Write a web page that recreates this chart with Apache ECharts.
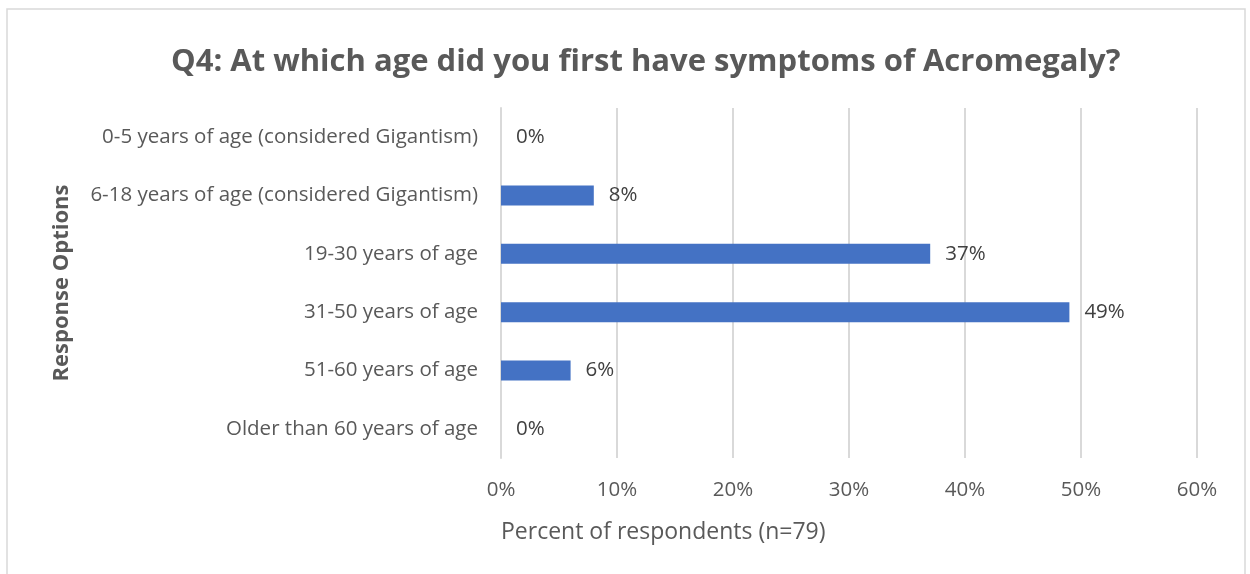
<!DOCTYPE html>
<html><head><meta charset="utf-8">
<script src="https://cdn.jsdelivr.net/npm/echarts@6/dist/echarts.min.js"></script>
<style>html,body{margin:0;padding:0;background:#fff}#c{width:1250px;height:574px}</style>
</head><body><div id="c"></div>
<script>
const categories = ["0-5 years of age (considered Gigantism)","6-18 years of age (considered Gigantism)","19-30 years of age","31-50 years of age","51-60 years of age","Older than 60 years of age"];
const values = [0, 8, 37, 49, 6, 0];
const xTicks = [0, 10, 20, 30, 40, 50, 60];
const titleText = "Q4: At which age did you first have symptoms of Acromegaly?";
const xName = "Percent of respondents (n=79)";
const yName = "Response Options";
const FONT = "Open Sans";
const chart = echarts.init(document.getElementById('c'), null, {renderer:'canvas'});
chart.setOption({
  animation:false,
  backgroundColor:'#fff',
  title:{text:titleText,left:166,top:42,textStyle:{fontFamily:FONT,fontSize:31,fontWeight:'bold',color:'#595959'}},
  grid:{left:501,right:53,top:108,bottom:116,containLabel:false},
  xAxis:{type:'value',min:xTicks[0],max:xTicks[xTicks.length-1],interval:10,
    axisLabel:{formatter:v=>v+'%',fontFamily:FONT,fontSize:20.5,color:'#595959',margin:22},
    axisLine:{show:false},axisTick:{show:false},
    splitLine:{lineStyle:{color:'#d9d9d9',width:2}}},
  yAxis:{type:'category',data:categories,inverse:true,
    axisLabel:{fontFamily:FONT,fontSize:20.5,color:'#595959',margin:23,padding:[3,0,0,0]},
    axisLine:{lineStyle:{color:'#d9d9d9',width:2}},axisTick:{show:false},
    name:yName,nameLocation:'middle',nameGap:428,nameRotate:90,
    nameTextStyle:{fontFamily:FONT,fontSize:22,fontWeight:'bold',color:'#595959'}},
  graphic:[
    {type:'rect',shape:{x:7,y:9,width:1238,height:600},style:{fill:'none',stroke:'#d9d9d9',lineWidth:1.5},z:-1},
    {type:'text',left:501,top:521,style:{text:xName,fontFamily:FONT,fontSize:23,fill:'#595959'}}
  ],
  series:[{type:'bar',data:values,barWidth:20,itemStyle:{color:'#4472c4'},
    label:{show:true,position:'right',distance:15,formatter:p=>p.value+'%',fontFamily:FONT,fontSize:20.5,color:'#404040'}}]
});
</script></body></html>
